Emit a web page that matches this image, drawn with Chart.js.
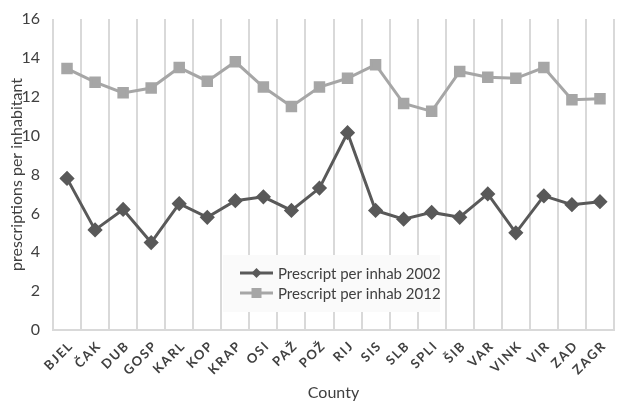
<!DOCTYPE html>
<html lang="en">
<head>
  <meta charset="UTF-8" />
  <title>Prescriptions per inhabitant by county</title>
  <script src="https://cdn.jsdelivr.net/npm/chart.js"></script>
  <style>
    * { margin: 0; padding: 0; box-sizing: border-box; }
    body { background: #fff; width: 623px; height: 402px; overflow: hidden; }
    .wrap { position: relative; width: 623px; height: 402px; }
  </style>
</head>
<body>
  <div class="wrap"><canvas id="rxChart"></canvas></div>

  <script>
    const counties = ['BJEL', 'ČAK', 'DUB', 'GOSP', 'KARL', 'KOP', 'KRAP', 'OSI', 'PAŽ', 'POŽ',
                      'RIJ', 'SIS', 'SLB', 'SPLI', 'ŠIB', 'VAR', 'VINK', 'VIR', 'ZAD', 'ZAGR'];
    const rx2002 = [7.8, 5.15, 6.2, 4.5, 6.5, 5.8, 6.65, 6.85, 6.15, 7.3,
                    10.15, 6.15, 5.7, 6.05, 5.8, 7.0, 5.0, 6.9, 6.45, 6.6];
    const rx2012 = [13.45, 12.75, 12.2, 12.45, 13.5, 12.8, 13.8, 12.5, 11.5, 12.5,
                    12.95, 13.65, 11.65, 11.25, 13.3, 13.0, 12.95, 13.5, 11.85, 11.9];
    const yTicks = [0, 2, 4, 6, 8, 10, 12, 14, 16];

    const font = 'Lato, "Open Sans", sans-serif';

    // legend drawn inside the plot, on top of the grid
    const boxLegend = {
      id: 'boxLegend',
      afterLayout(chart) {
        // spread the county labels a little, like the original
        const sc = chart.scales.x;
        if (sc._spaced) return;
        const orig = sc.drawLabels.bind(sc);
        sc.drawLabels = (area) => {
          const c = chart.ctx;
          c.save();
          c.letterSpacing = '1.6px';
          orig(area);
          c.restore();
        };
        sc._spaced = true;
      },
      afterDraw(chart) {
        const c = chart.ctx;
        const x = 223, y = 255, w = 217, h = 57;
        c.save();
        c.fillStyle = '#fafafa';
        c.fillRect(x, y, w, h);
        c.font = '15px ' + font;
        c.textBaseline = 'middle';
        chart.data.datasets.forEach((ds, i) => {
          const ly = y + 18 + i * 20;
          c.strokeStyle = ds.borderColor;
          c.lineWidth = 3;
          c.beginPath();
          c.moveTo(240, ly);
          c.lineTo(273, ly);
          c.stroke();
          c.fillStyle = ds.pointBackgroundColor;
          c.beginPath();
          if (ds.pointStyle === 'rectRot') {
            c.moveTo(256.5, ly - 5); c.lineTo(261.5, ly); c.lineTo(256.5, ly + 5); c.lineTo(251.5, ly);
          } else {
            c.rect(251.5, ly - 5, 10, 10);
          }
          c.fill();
          c.fillStyle = '#404040';
          c.fillText(ds.label, 278, ly + 1);
        });
        c.restore();
      }
    };

    new Chart(document.getElementById('rxChart'), {
      type: 'line',
      data: {
        labels: counties,
        datasets: [
          {
            label: 'Prescript per inhab 2002',
            data: rx2002,
            borderColor: '#595959',
            backgroundColor: '#595959',
            pointBackgroundColor: '#595959',
            pointBorderColor: '#595959',
            pointStyle: 'rectRot',
            pointRadius: 5.5,
            borderWidth: 3,
            tension: 0
          },
          {
            label: 'Prescript per inhab 2012',
            data: rx2012,
            borderColor: '#a6a6a6',
            backgroundColor: '#a6a6a6',
            pointBackgroundColor: '#a6a6a6',
            pointBorderColor: '#a6a6a6',
            pointStyle: 'rect',
            pointRadius: 6,
            borderWidth: 3,
            tension: 0
          }
        ]
      },
      options: {
        responsive: true,
        maintainAspectRatio: false,
        animation: false,
        layout: { padding: { top: 19, right: 0, left: 7, bottom: 0 } },
        plugins: {
          legend: { display: false },
          tooltip: { enabled: false }
        },
        scales: {
          x: {
            offset: true,
            grid: { display: true, offset: true, color: '#d9d9d9', lineWidth: 2, drawTicks: false },
            border: { display: true, color: '#d9d9d9', width: 2 },
            ticks: {
              color: '#404040',
              font: { family: font, size: 13, weight: 'bold' },
              minRotation: 45, maxRotation: 45, padding: 8, labelOffset: 4, autoSkip: false
            },
            title: { display: true, text: 'County', color: '#404040', font: { family: font, size: 16 }, padding: { top: 0, bottom: 0 } },
            afterFit(scale) { scale.height = 72; }
          },
          y: {
            min: 0, max: 16,
            afterBuildTicks(scale) { scale.ticks = yTicks.map(v => ({ value: v })); },
            grid: { display: false },
            border: { display: false },
            ticks: { color: '#404040', font: { family: font, size: 16 }, padding: 5 },
            title: { display: true, text: 'prescriptions per inhabitant', color: '#404040', font: { family: font, size: 16 }, padding: { top: 0, bottom: 0 } },
            afterFit(scale) { scale.width = 46; }
          }
        }
      },
      plugins: [boxLegend]
    });
  </script>
</body>
</html>
